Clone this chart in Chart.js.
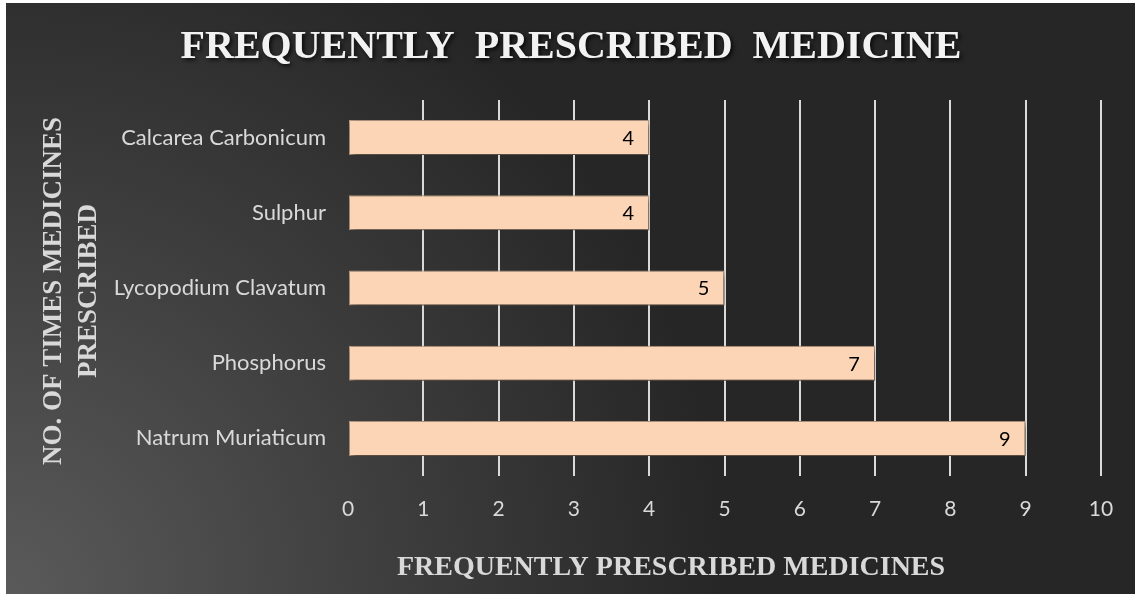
<!DOCTYPE html>
<html lang="en">
<head>
  <meta charset="UTF-8" />
  <script src="https://cdn.jsdelivr.net/npm/chart.js"></script>
  <style>
    body { margin: 0; background: #fff; }
    #wrap {
      position: absolute; left: 6px; top: 3px; width: 1129px; height: 591px;
      background: radial-gradient(circle at 0% 100%, #5a5a5a 0px, #3e3e3e 380px, #262626 720px);
    }
  </style>
</head>
<body>
  <div id="wrap"><canvas id="medChart" width="1129" height="591"></canvas></div>

  <script>
    const categories = ['Calcarea Carbonicum', 'Sulphur', 'Lycopodium Clavatum', 'Phosphorus', 'Natrum Muriaticum'];
    const counts = [4, 4, 5, 7, 9];
    const xTicks = [0, 1, 2, 3, 4, 5, 6, 7, 8, 9, 10];

    const chartTitle = 'FREQUENTLY  PRESCRIBED  MEDICINE';
    const xTitle = 'FREQUENTLY PRESCRIBED MEDICINES';
    const yTitle = ['NO. OF TIMES MEDICINES', 'PRESCRIBED'];

    // titles + value labels drawn straight on the canvas
    const extras = {
      id: 'extras',
      beforeDatasetsDraw(chart) {
        const c = chart.ctx;
        c.save();
        c.shadowColor = 'rgba(0,0,0,0.65)';
        c.shadowBlur = 6;
        c.shadowOffsetX = 2;
        c.shadowOffsetY = 3;
      },
      afterDatasetsDraw(chart) {
        const c = chart.ctx;
        c.restore();
        const meta = chart.getDatasetMeta(0);
        c.save();
        c.font = '20px Lato';
        c.fillStyle = '#000';
        c.textAlign = 'center';
        c.textBaseline = 'middle';
        meta.data.forEach((bar, i) => {
          c.fillText(String(counts[i]), bar.x - 21, bar.y + 1);
        });
        c.restore();
      },
      afterDraw(chart) {
        const c = chart.ctx;
        c.save();
        c.textAlign = 'center';
        c.textBaseline = 'middle';
        // main title
        c.font = 'bold 40px "Liberation Serif"';
        c.shadowColor = 'rgba(0,0,0,0.8)';
        c.shadowBlur = 4;
        c.shadowOffsetX = 2;
        c.shadowOffsetY = 2;
        c.fillStyle = '#f2f2f2';
        c.fillText(chartTitle, 565, 45);
        c.shadowColor = 'transparent';
        // axis titles
        c.fillStyle = '#d9d9d9';
        c.font = 'bold 28px "Liberation Serif"';
        c.fillText(xTitle, 665, 565);
        c.font = 'bold 27px "Liberation Serif"';
        c.translate(0, 288);
        c.rotate(-Math.PI / 2);
        c.fillText(yTitle[0], 0, 48);
        c.fillText(yTitle[1], 0, 83);
        c.restore();
      }
    };

    new Chart(document.getElementById('medChart'), {
      type: 'bar',
      data: {
        labels: categories,
        datasets: [{
          data: counts,
          backgroundColor: '#fbd5b5',
          borderColor: '#b89c86',
          borderWidth: 1,
          borderSkipped: false,
          categoryPercentage: 1,
          barPercentage: 0.465,
        }],
      },
      options: {
        indexAxis: 'y',
        responsive: false,
        animation: false,
        layout: { padding: { top: 97, right: 34, bottom: 0, left: 0 } },
        plugins: { legend: { display: false }, tooltip: { enabled: false }, title: { display: false } },
        scales: {
          x: {
            min: 0, max: 10,
            afterBuildTicks: s => { s.ticks = xTicks.map(v => ({ value: v })); },
            afterFit: s => { s.height = 118; },
            border: { display: false },
            grid: {
              drawTicks: false,
              lineWidth: 2,
              color: ctx => ctx.index === 0 ? 'transparent' : '#d9d9d9',
            },
            ticks: { color: '#d9d9d9', font: { family: 'Lato', size: 21 }, padding: 21 },
          },
          y: {
            afterFit: s => { s.width = 342; },
            border: { display: false },
            grid: { display: false, drawTicks: false },
            ticks: { color: '#d9d9d9', font: { family: 'Lato', size: 22 }, padding: 22 },
          },
        },
      },
      plugins: [extras],
    });
  </script>
</body>
</html>
